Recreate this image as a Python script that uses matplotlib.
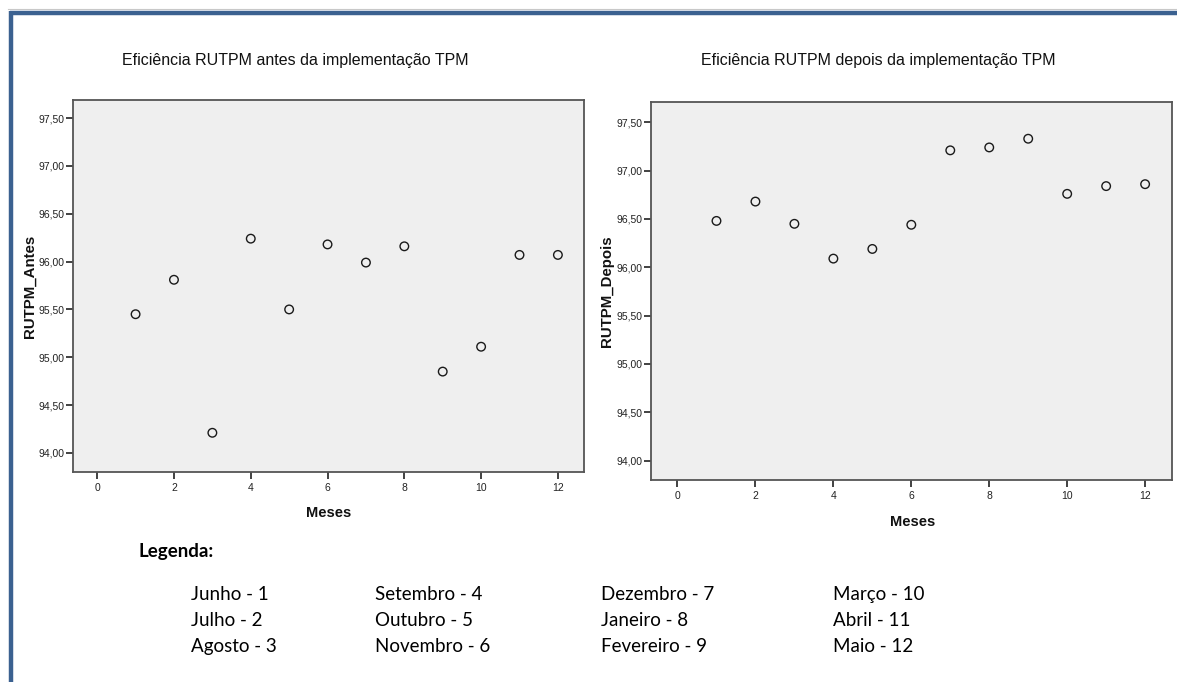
import matplotlib
matplotlib.use("Agg")
import matplotlib.pyplot as plt
from matplotlib.lines import Line2D
from matplotlib import font_manager

# ---- data ----
meses = [1, 2, 3, 4, 5, 6, 7, 8, 9, 10, 11, 12]
rutpm_antes = [95.45, 95.81, 94.21, 96.24, 95.50, 96.18, 95.99, 96.16, 94.85, 95.11, 96.07, 96.07]
rutpm_depois = [96.48, 96.68, 96.45, 96.09, 96.19, 96.44, 97.21, 97.24, 97.33, 96.76, 96.84, 96.86]
x_ticks = [0, 2, 4, 6, 8, 10, 12]
y_ticks = [94.0, 94.5, 95.0, 95.5, 96.0, 96.5, 97.0, 97.5]
y_ticklabels = ["94,00", "94,50", "95,00", "95,50", "96,00", "96,50", "97,00", "97,50"]
title_antes = "Eficiência RUTPM antes da implementação TPM"
title_depois = "Eficiência RUTPM depois da implementação TPM"
legend_cols = [
    ["Junho - 1", "Julho - 2", "Agosto - 3"],
    ["Setembro - 4", "Outubro - 5", "Novembro - 6"],
    ["Dezembro - 7", "Janeiro - 8", "Fevereiro - 9"],
    ["Março - 10", "Abril - 11", "Maio - 12"],
]

# ---- font choice ----
try:
    _p = font_manager.findfont(font_manager.FontProperties(family="Liberation Sans Narrow"),
                               fallback_to_default=False)
    HAVE_NARROW = "Narrow" in _p
except Exception:
    HAVE_NARROW = False

if HAVE_NARROW:
    HFONT = ["Liberation Sans Narrow", "Liberation Sans", "DejaVu Sans"]
    TITLE_FS, TICK_FS, XLAB_FS = 14, 8, 12.5
else:
    HFONT = ["Liberation Sans", "DejaVu Sans"]
    TITLE_FS, TICK_FS, XLAB_FS = 11.5, 7.5, 10.5
SANS = ["Liberation Sans", "DejaVu Sans"]
LEG = ["Lato", "DejaVu Sans"]

W, H = 1177, 682
fig = plt.figure(figsize=(W / 100, H / 100), dpi=100)
fig.patch.set_facecolor("white")


def fx(px):
    return px / W


def fy(py):
    return 1 - py / H


def make_axes(left, top, right, bottom, y, xlim, ylim):
    ax = fig.add_axes([fx(left), fy(bottom), fx(right) - fx(left), fy(top) - fy(bottom)])
    ax.set_facecolor("#efefef")
    ax.scatter(meses, y, s=38, facecolors="none", edgecolors="#1a1a1a", linewidths=1.0, zorder=3)
    ax.set_xlim(*xlim)
    ax.set_ylim(*ylim)
    ax.set_xticks(x_ticks)
    ax.set_xticklabels([str(v) for v in x_ticks], family=HFONT, fontsize=TICK_FS, color="#222222")
    ax.set_yticks(y_ticks)
    ax.set_yticklabels(y_ticklabels, family=HFONT, fontsize=TICK_FS, color="#222222")
    ax.tick_params(direction="out", length=5, width=1.3, color="#333333")
    ax.tick_params(axis="y", pad=1)
    ax.tick_params(axis="x", pad=3)
    for s in ax.spines.values():
        s.set_color("#555555")
        s.set_linewidth(1.3)
    return ax


ax1 = make_axes(73, 100, 584, 472, rutpm_antes, (-0.63, 12.68), (93.80, 97.69))
ax2 = make_axes(651, 102, 1172, 480, rutpm_depois, (-0.68, 12.69), (93.80, 97.71))

# titles
fig.text(fx(295), fy(61), title_antes, family=HFONT, fontsize=TITLE_FS, ha="center", va="center", color="#111111")
fig.text(fx(878), fy(61), title_depois, family=HFONT, fontsize=TITLE_FS, ha="center", va="center", color="#111111")

# axis labels
fig.text(fx(30), fy(286), "RUTPM_Antes", family=SANS, fontsize=10.8, fontweight="bold",
         rotation=90, ha="center", va="center", color="#111111")
fig.text(fx(607), fy(291), "RUTPM_Depois", family=SANS, fontsize=10.8, fontweight="bold",
         rotation=90, ha="center", va="center", color="#111111")
fig.text(fx(329), fy(513), "Meses", family=HFONT, fontsize=XLAB_FS, fontweight="bold",
         ha="center", va="center", color="#111111")
fig.text(fx(913), fy(522), "Meses", family=HFONT, fontsize=XLAB_FS, fontweight="bold",
         ha="center", va="center", color="#111111")

# legend text (baseline aligned)
fig.text(fx(138), fy(557), "Legenda:", family=LEG, fontsize=13.5, fontweight="bold",
         ha="left", va="baseline", color="black")
col_x = [191, 375, 601, 833]
row_y = [600, 626, 652]
for cx, col in zip(col_x, legend_cols):
    for ry, label in zip(row_y, col):
        fig.text(fx(cx), fy(ry), label, family=LEG, fontsize=13.5, ha="left", va="baseline", color="black")

# blue frame (top and left)
blue = "#3b6190"
fig.add_artist(Line2D([fx(10), 1.0], [fy(12.5), fy(12.5)], color=blue, linewidth=3.2,
                      transform=fig.transFigure, solid_capstyle="butt"))
fig.add_artist(Line2D([fx(10.5), fx(10.5)], [fy(11), 0.0], color=blue, linewidth=3.2,
                      transform=fig.transFigure, solid_capstyle="butt"))
fig.add_artist(Line2D([fx(8), 1.0], [fy(9), fy(9)], color="#c8c8c8", linewidth=0.8,
                      transform=fig.transFigure))

fig.savefig("out.png", dpi=100)
